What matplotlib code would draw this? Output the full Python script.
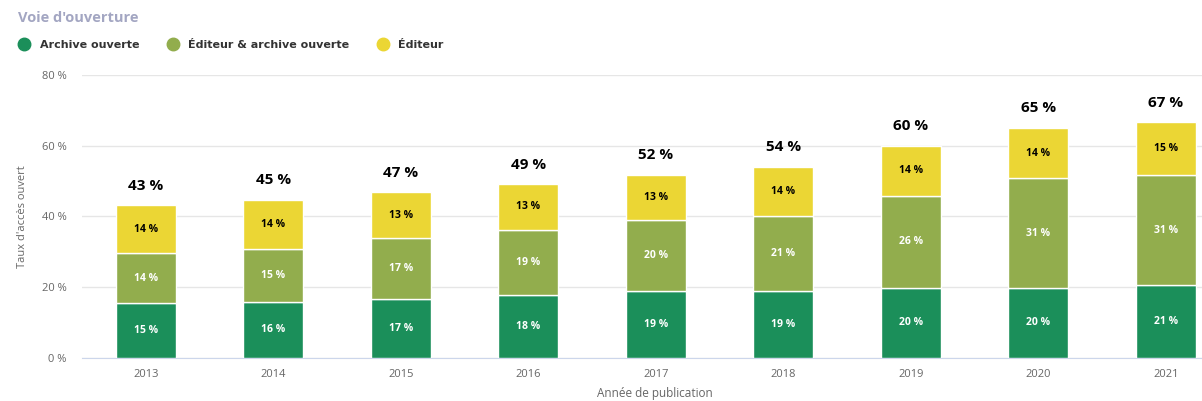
import matplotlib
matplotlib.use('Agg')
import matplotlib.pyplot as plt
from matplotlib.lines import Line2D

plt.rcParams['font.family'] = ['Open Sans', 'DejaVu Sans']

years = ['2013', '2014', '2015', '2016', '2017', '2018', '2019', '2020', '2021']
archive = [15.3, 15.6, 16.6, 17.6, 18.8, 18.8, 19.7, 19.6, 20.6]
editeur_archive = [14.2, 15.1, 17.1, 18.6, 20.2, 21.2, 26.1, 31.1, 31.0]
editeur = [13.6, 14.0, 13.1, 12.9, 12.8, 14.0, 14.2, 14.3, 15.0]
series_names = ['Archive ouverte', 'Éditeur & archive ouverte', 'Éditeur']
colors = ['#1b8f5a', '#92ad4d', '#ebd634']
label_colors = ['white', 'white', 'black']
y_ticks = [0, 20, 40, 60, 80]

fig = plt.figure(figsize=(12.02, 4.01), dpi=100)
# axe plus large que la figure : la dernière catégorie est coupée à droite
ax = fig.add_axes([82 / 1202, 43.5 / 401, 1147.5 / 1202, 282.5 / 401])

x = list(range(len(years)))
bottoms = [0] * len(years)
for values, color, lcolor in zip([archive, editeur_archive, editeur], colors, label_colors):
    ax.bar(x, values, width=0.47, bottom=bottoms, color=color, edgecolor='white', linewidth=1, zorder=3)
    for i, v in enumerate(values):
        ax.text(i, bottoms[i] + v / 2, f'{round(v)} %', ha='center', va='center',
                color=lcolor, fontsize=7.5, fontweight='bold', zorder=4)
    bottoms = [b + v for b, v in zip(bottoms, values)]

for i, total in enumerate(bottoms):
    ax.annotate(f'{round(total)} %', (i, total), xytext=(0, 9), textcoords='offset points',
                ha='center', va='bottom', fontsize=11, fontweight='bold', color='black')

ax.set_xlim(-0.5, len(years) - 0.5)
ax.set_ylim(0, 80)
ax.set_yticks(y_ticks)
ax.set_yticklabels([f'{t} %' for t in y_ticks])
ax.set_xticks(x)
ax.set_xticklabels(years)
ax.tick_params(axis='both', length=0, labelsize=8, colors='#666666')
ax.tick_params(axis='y', pad=11)
ax.tick_params(axis='x', pad=8)
ax.grid(axis='y', color='#e6e6e6', linewidth=1, zorder=0)
for side in ['top', 'right', 'left']:
    ax.spines[side].set_visible(False)
ax.spines['bottom'].set_color('#ccd6eb')
ax.set_ylabel("Taux d'accès ouvert", fontsize=8, color='#666666')
ax.yaxis.set_label_coords(-(82 - 28) / 1147.5, 0.5)
ax.set_xlabel('Année de publication', fontsize=8.5, color='#666666')
ax.xaxis.set_label_coords((655 - 82) / 1147.5, -30 / 282.5)

fig.text(18 / 1202, 1 - 18 / 401, "Voie d'ouverture", fontsize=10.5, fontweight='bold',
         color='#a3a6c2', va='center', ha='left')

handles = [Line2D([], [], marker='o', linestyle='', markersize=9, markerfacecolor=c,
                  markeredgecolor=c) for c in colors]
leg = fig.legend(handles, series_names, loc='center left', bbox_to_anchor=(3 / 1202, 1 - 45 / 401),
                 ncol=3, frameon=False, handletextpad=0.4, columnspacing=2.0,
                 prop={'family': 'DejaVu Sans', 'weight': 'bold', 'size': 8})
for t in leg.get_texts():
    t.set_color('#333333')

fig.savefig('out.png', dpi=100)
